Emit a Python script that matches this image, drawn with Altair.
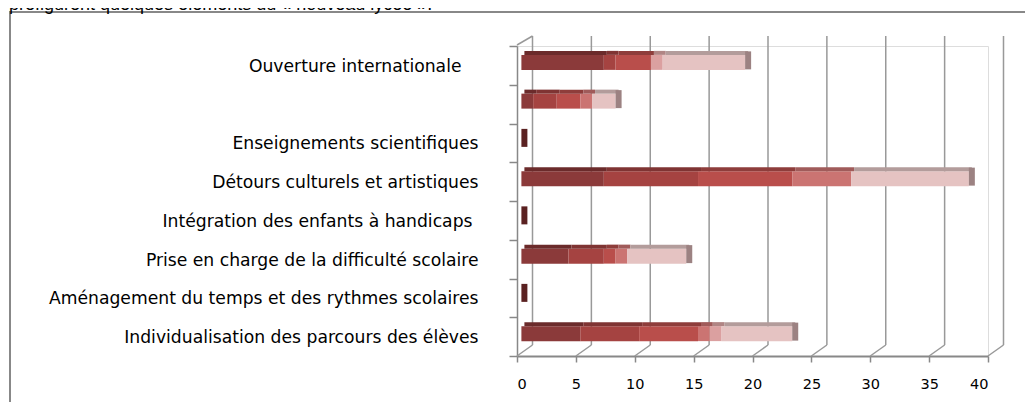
import altair as alt
import pandas as pd

categories = [
    "Ouverture internationale",
    "",
    "Enseignements scientifiques",
    "Détours culturels et artistiques",
    "Intégration des enfants à handicaps",
    "Prise en charge de la difficulté scolaire",
    "Aménagement du temps et des rythmes scolaires",
    "Individualisation des parcours des élèves",
]
series = ["série 1", "série 2", "série 3", "série 4", "série 5", "série 6"]
s1 = [7, 1, 0, 7, 0, 4, 0, 5]
s2 = [1, 2, 0, 8, 0, 3, 0, 5]
s3 = [3, 2, 0, 8, 0, 1, 0, 5]
s4 = [0, 1, 0, 5, 0, 1, 0, 1]
s5 = [1, 0, 0, 0, 0, 0, 0, 1]
s6 = [7, 2, 0, 10, 0, 5, 0, 6]
values = [s1, s2, s3, s4, s5, s6]

front_colors = ["#8B3A3A", "#A54341", "#B94E4B", "#CB7472", "#DBA0A0", "#E5C3C2"]
top_colors = ["#6B2B2B", "#7F3433", "#8E3D3B", "#A05B5A", "#B08584", "#B39C9B"]
end_colors = ["#5A2121", "#6E2E2D", "#7C3534", "#8C504F", "#9A7473", "#9C8282"]
x_ticks = [0, 5, 10, 15, 20, 25, 30, 35, 40]
intro_text = "préfigurent quelques éléments du « nouveau lycée »."

rows = []
end_rows = []
for ci, cat in enumerate(categories):
    cum = 0
    last = 0
    for si, ser in enumerate(series):
        v = values[si][ci]
        if v > 0:
            rows.append(dict(cat=cat, serie=ser, x0=cum, x1=cum + v))
            cum += v
            last = si
    end_rows.append(dict(cat=cat, serie=series[last], total=cum))
seg = pd.DataFrame(rows)
ends = pd.DataFrame(end_rows)
ticks = pd.DataFrame({"t": x_ticks})

W, H = 471, 310
DX, DY = 15.5, 11  # depth of the 3D box
BX = 4.4           # bar front plane offset

yscale = alt.Scale(domain=categories, paddingInner=0, paddingOuter=0)
xscale = alt.Scale(domain=[0, 40], nice=False, zero=False)

label_pad = {
    "condition": [
        {"test": "datum.value == 'Ouverture internationale'", "value": 48},
        {"test": "datum.value == 'Intégration des enfants à handicaps'", "value": 37},
    ],
    "value": 31,
}

y_axis = alt.Axis(title=None, labelFont="DejaVu Sans", labelFontSize=17.2,
                  labelColor="#000", labelPadding=label_pad, labelOffset=1,
                  tickSize=8, tickColor="#888", tickWidth=1.5,
                  domainColor="#888", domainWidth=1.5, tickBand="extent",
                  labelLimit=600)
x_axis = alt.Axis(title=None, values=x_ticks, grid=False, labelFont="DejaVu Sans",
                  labelFontSize=14.5, labelColor="#000", labelPadding=15,
                  tickSize=6, tickColor="#888", tickWidth=1.5,
                  domainColor="#888", domainWidth=2)


def X(f):
    return alt.X(f, scale=xscale, axis=x_axis)


Y = alt.Y("cat:N", scale=yscale, sort=None, axis=y_axis)

# back wall gridlines
grid = alt.Chart(ticks).mark_rule(color="#999", strokeWidth=1.5, xOffset=DX).encode(
    x=X("t:Q"), y=alt.value(-10), y2=alt.value(H - DY))
floor = alt.Chart(ticks).mark_rule(color="#999", strokeWidth=1.5, x2Offset=DX).encode(
    x=X("t:Q"), x2="t:Q", y=alt.value(H), y2=alt.value(H - DY))
wall_top = alt.Chart(ticks[ticks.t == 0]).mark_rule(color="#999", strokeWidth=1.5, x2Offset=DX).encode(
    x=X("t:Q"), x2="t:Q", y=alt.value(-1), y2=alt.value(-10))


def col(rng):
    return alt.Color("serie:N", scale=alt.Scale(domain=series, range=rng), legend=None)


top = alt.Chart(seg).mark_bar(size=4, yOffset=-12.5, xOffset=BX + 3, x2Offset=BX + 3).encode(
    x=X("x0:Q"), x2="x1:Q", y=Y, color=col(top_colors))
front = alt.Chart(seg).mark_bar(size=15, yOffset=-3, xOffset=BX, x2Offset=BX).encode(
    x=X("x0:Q"), x2="x1:Q", y=Y, color=col(front_colors))
endf = alt.Chart(ends).mark_bar(size=18, yOffset=-5, xOffset=BX, x2Offset=BX + 6).encode(
    x=X("total:Q"), x2="total:Q", y=Y, color=col(end_colors))

one = pd.DataFrame({"txt": [intro_text]})
frame_l = alt.Chart(one).mark_rule(color="#888", strokeWidth=2).encode(
    x=alt.value(-507), y=alt.value(-34), y2=alt.value(H + 60))
frame_t = alt.Chart(one).mark_rule(color="#888", strokeWidth=2).encode(
    x=alt.value(-508), x2=alt.value(W + 40), y=alt.value(-34))
intro = alt.Chart(one).mark_text(
    align="left", baseline="alphabetic", font="Liberation Sans", fontSize=18, color="#000").encode(
    text="txt:N", x=alt.value(-508), y=alt.value(-36.5))

chart = alt.layer(grid, floor, wall_top, front, top, endf, frame_l, frame_t, intro).properties(
    width=W, height=H, autosize=alt.AutoSizeParams(type="none"),
    padding={"left": 509, "top": 38, "right": 37, "bottom": 46},
).resolve_scale(color="independent").configure_view(strokeWidth=0).configure(background="white")

chart.save("out.html", embed_options={"renderer": "svg", "actions": False})
